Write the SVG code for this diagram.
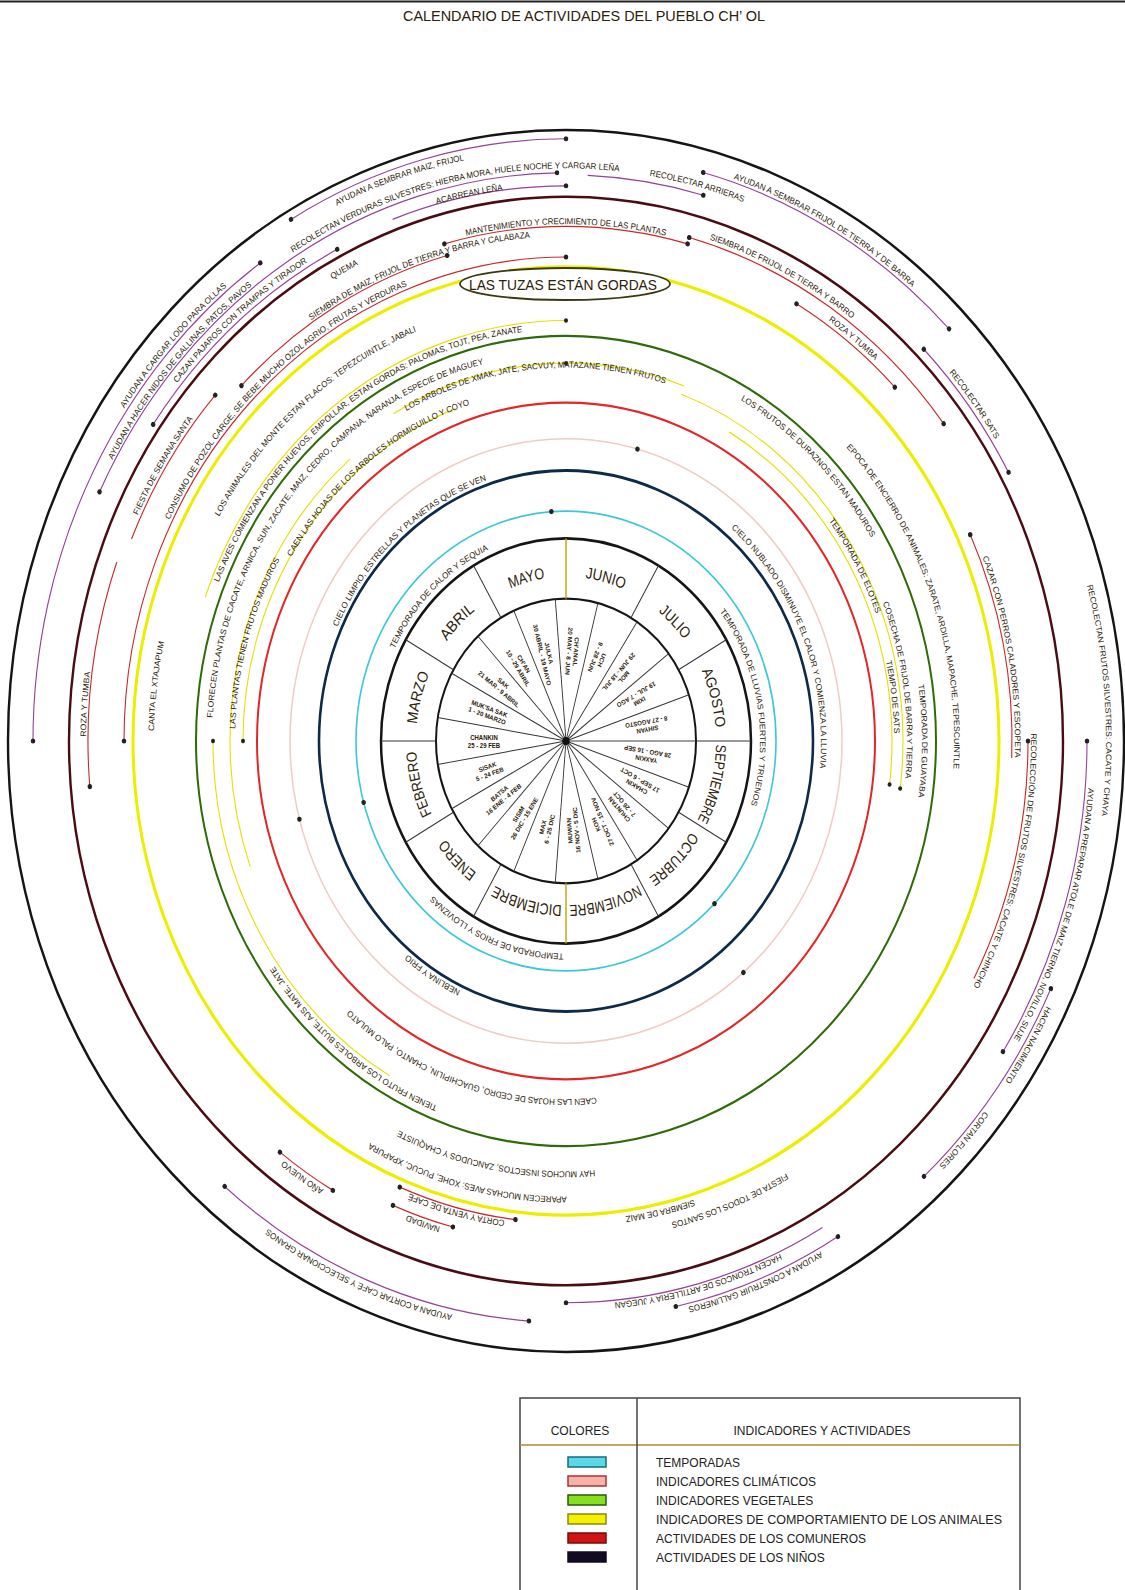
<svg xmlns="http://www.w3.org/2000/svg" width="1125" height="1590" viewBox="0 0 1125 1590">
<style>
text{font-family:"Liberation Sans","DejaVu Sans",sans-serif;fill:#2b2008}
.t{font-size:8px}
.m{font-size:14.5px;fill:#000}
.w{font-size:6px;fill:#a88300;font-weight:bold}
.ring{fill:none}
.arc{fill:none;stroke-width:1.1}
.pu{stroke:#96409a}.re{stroke:#c82828}.ye{stroke:#e6e000}
.dot{fill:#222}
.lg{font-size:12px;fill:#222}
</style>
<defs>
<path id="r150" d="M0,150A150,150 0 1 1 0,-150A150,150 0 1 1 0,150A150,150 0 1 1 0,-150"/>
<path id="r191" d="M0,191A191,191 0 1 1 0,-191A191,191 0 1 1 0,191A191,191 0 1 1 0,-191"/>
<path id="r194" d="M0,194A194,194 0 1 1 0,-194A194,194 0 1 1 0,194A194,194 0 1 1 0,-194"/>
<path id="r251" d="M0,251A251,251 0 1 1 0,-251A251,251 0 1 1 0,251A251,251 0 1 1 0,-251"/>
<path id="r255" d="M0,255A255,255 0 1 1 0,-255A255,255 0 1 1 0,255A255,255 0 1 1 0,-255"/>
<path id="r322" d="M0,322A322,322 0 1 1 0,-322A322,322 0 1 1 0,322A322,322 0 1 1 0,-322"/>
<path id="r327" d="M0,327A327,327 0 1 1 0,-327A327,327 0 1 1 0,327A327,327 0 1 1 0,-327"/>
<path id="r328" d="M0,328A328,328 0 1 1 0,-328A328,328 0 1 1 0,328A328,328 0 1 1 0,-328"/>
<path id="r331" d="M0,331A331,331 0 1 1 0,-331A331,331 0 1 1 0,331A331,331 0 1 1 0,-331"/>
<path id="r341" d="M0,341A341,341 0 1 1 0,-341A341,341 0 1 1 0,341A341,341 0 1 1 0,-341"/>
<path id="r354" d="M0,354A354,354 0 1 1 0,-354A354,354 0 1 1 0,354A354,354 0 1 1 0,-354"/>
<path id="r356" d="M0,356A356,356 0 1 1 0,-356A356,356 0 1 1 0,356A356,356 0 1 1 0,-356"/>
<path id="r357" d="M0,357A357,357 0 1 1 0,-357A357,357 0 1 1 0,357A357,357 0 1 1 0,-357"/>
<path id="r376" d="M0,376A376,376 0 1 1 0,-376A376,376 0 1 1 0,376A376,376 0 1 1 0,-376"/>
<path id="r388" d="M0,388A388,388 0 1 1 0,-388A388,388 0 1 1 0,388A388,388 0 1 1 0,-388"/>
<path id="r393" d="M0,393A393,393 0 1 1 0,-393A393,393 0 1 1 0,393A393,393 0 1 1 0,-393"/>
<path id="r403" d="M0,403A403,403 0 1 1 0,-403A403,403 0 1 1 0,403A403,403 0 1 1 0,-403"/>
<path id="r412" d="M0,412A412,412 0 1 1 0,-412A412,412 0 1 1 0,412A412,412 0 1 1 0,-412"/>
<path id="r416" d="M0,416A416,416 0 1 1 0,-416A416,416 0 1 1 0,416A416,416 0 1 1 0,-416"/>
<path id="r438" d="M0,438A438,438 0 1 1 0,-438A438,438 0 1 1 0,438A438,438 0 1 1 0,-438"/>
<path id="r442" d="M0,442A442,442 0 1 1 0,-442A442,442 0 1 1 0,442A442,442 0 1 1 0,-442"/>
<path id="r445" d="M0,445A445,445 0 1 1 0,-445A445,445 0 1 1 0,445A445,445 0 1 1 0,-445"/>
<path id="r449" d="M0,449A449,449 0 1 1 0,-449A449,449 0 1 1 0,449A449,449 0 1 1 0,-449"/>
<path id="r452" d="M0,452A452,452 0 1 1 0,-452A452,452 0 1 1 0,452A452,452 0 1 1 0,-452"/>
<path id="r461" d="M0,461A461,461 0 1 1 0,-461A461,461 0 1 1 0,461A461,461 0 1 1 0,-461"/>
<path id="r465" d="M0,465A465,465 0 1 1 0,-465A465,465 0 1 1 0,465A465,465 0 1 1 0,-465"/>
<path id="r472" d="M0,472A472,472 0 1 1 0,-472A472,472 0 1 1 0,472A472,472 0 1 1 0,-472"/>
<path id="r475" d="M0,475A475,475 0 1 1 0,-475A475,475 0 1 1 0,475A475,475 0 1 1 0,-475"/>
<path id="r476" d="M0,476A476,476 0 1 1 0,-476A476,476 0 1 1 0,476A476,476 0 1 1 0,-476"/>
<path id="r480" d="M0,480A480,480 0 1 1 0,-480A480,480 0 1 1 0,480A480,480 0 1 1 0,-480"/>
<path id="r482" d="M0,482A482,482 0 1 1 0,-482A482,482 0 1 1 0,482A482,482 0 1 1 0,-482"/>
<path id="r507" d="M0,507A507,507 0 1 1 0,-507A507,507 0 1 1 0,507A507,507 0 1 1 0,-507"/>
<path id="r508" d="M0,508A508,508 0 1 1 0,-508A508,508 0 1 1 0,508A508,508 0 1 1 0,-508"/>
<path id="r510" d="M0,510A510,510 0 1 1 0,-510A510,510 0 1 1 0,510A510,510 0 1 1 0,-510"/>
<path id="r515" d="M0,515A515,515 0 1 1 0,-515A515,515 0 1 1 0,515A515,515 0 1 1 0,-515"/>
<path id="r521" d="M0,521A521,521 0 1 1 0,-521A521,521 0 1 1 0,521A521,521 0 1 1 0,-521"/>
<path id="r523" d="M0,523A523,523 0 1 1 0,-523A523,523 0 1 1 0,523A523,523 0 1 1 0,-523"/>
<path id="r524" d="M0,524A524,524 0 1 1 0,-524A524,524 0 1 1 0,524A524,524 0 1 1 0,-524"/>
<path id="r531" d="M0,531A531,531 0 1 1 0,-531A531,531 0 1 1 0,531A531,531 0 1 1 0,-531"/>
<path id="r536" d="M0,536A536,536 0 1 1 0,-536A536,536 0 1 1 0,536A536,536 0 1 1 0,-536"/>
<path id="r538" d="M0,538A538,538 0 1 1 0,-538A538,538 0 1 1 0,538A538,538 0 1 1 0,-538"/>
<path id="r540" d="M0,540A540,540 0 1 1 0,-540A540,540 0 1 1 0,540A540,540 0 1 1 0,-540"/>
</defs>
<rect width="1125" height="1590" fill="#fff"/>
<line x1="0" y1="1.5" x2="1125" y2="1.5" stroke="#222" stroke-width="2"/>
<text id="title" x="584" y="21" font-size="15" text-anchor="middle" textLength="362" lengthAdjust="spacingAndGlyphs" fill="#1a1a1a">CALENDARIO DE ACTIVIDADES DEL PUEBLO CH’ OL</text>

<g id="diagram" transform="translate(566,741) scale(1,1.095)">
<g id="rings" class="ring">
<circle r="558" stroke="#151515" stroke-width="2.4"/>
<circle r="497" stroke="#4a0c12" stroke-width="2.4"/>
<circle r="433" stroke="#eded00" stroke-width="3"/>
<circle r="370" stroke="#2f6a08" stroke-width="2"/>
<circle r="309" stroke="#e42626" stroke-width="2"/>
<circle r="276" stroke="#f0ccc4" stroke-width="1.5"/>
<circle r="247" stroke="#0d2a48" stroke-width="2.6"/>
<circle r="210" stroke="#3ac8d8" stroke-width="1.6"/>
</g>

<g id="center">
<circle r="185" fill="#fff" stroke="#151515" stroke-width="2.5"/>
<circle r="130" fill="none" stroke="#151515" stroke-width="2"/>
<g stroke="#333" stroke-width="1">
<line x1="130" x2="185" transform="rotate(0)"/><line x1="130" x2="185" transform="rotate(30)"/><line x1="130" x2="185" transform="rotate(60)"/><line x1="130" x2="185" transform="rotate(120)"/><line x1="130" x2="185" transform="rotate(150)"/><line x1="130" x2="185" transform="rotate(180)"/><line x1="130" x2="185" transform="rotate(210)"/><line x1="130" x2="185" transform="rotate(240)"/><line x1="130" x2="185" transform="rotate(300)"/><line x1="130" x2="185" transform="rotate(330)"/>
</g>
<g stroke="#c9a200" stroke-width="1.4"><line y1="-130" y2="-185"/><line y1="130" y2="185"/></g>
<g stroke="#333" stroke-width="0.9">
<line x2="130" transform="rotate(0)"/><line x2="130" transform="rotate(18.947)"/><line x2="130" transform="rotate(37.895)"/><line x2="130" transform="rotate(56.842)"/><line x2="130" transform="rotate(75.789)"/><line x2="130" transform="rotate(94.737)"/><line x2="130" transform="rotate(113.684)"/><line x2="130" transform="rotate(132.632)"/><line x2="130" transform="rotate(151.579)"/><line x2="130" transform="rotate(170.526)"/><line x2="130" transform="rotate(189.474)"/><line x2="130" transform="rotate(208.421)"/><line x2="130" transform="rotate(227.368)"/><line x2="130" transform="rotate(246.316)"/><line x2="130" transform="rotate(265.263)"/><line x2="130" transform="rotate(284.211)"/><line x2="130" transform="rotate(303.158)"/><line x2="130" transform="rotate(322.105)"/><line x2="130" transform="rotate(341.053)"/>
</g>
<circle r="3.6" fill="#111"/>
<g id="months" class="m" text-anchor="middle">
<text><textPath href="#r150" startOffset="30.556%" textLength="36" lengthAdjust="spacingAndGlyphs">MAYO</textPath></text>
<text><textPath href="#r150" startOffset="36.111%" textLength="40" lengthAdjust="spacingAndGlyphs">JUNIO</textPath></text>
<text><textPath href="#r150" startOffset="41.667%" textLength="36" lengthAdjust="spacingAndGlyphs">JULIO</textPath></text>
<text><textPath href="#r150" startOffset="47.222%" textLength="54" lengthAdjust="spacingAndGlyphs">AGOSTO</textPath></text>
<text><textPath href="#r150" startOffset="52.778%" textLength="72" lengthAdjust="spacingAndGlyphs">SEPTIEMBRE</textPath></text>
<text><textPath href="#r150" startOffset="58.333%" textLength="60" lengthAdjust="spacingAndGlyphs">OCTUBRE</textPath></text>
<text><textPath href="#r150" startOffset="63.889%" textLength="72" lengthAdjust="spacingAndGlyphs">NOVIEMBRE</textPath></text>
<text><textPath href="#r150" startOffset="69.444%" textLength="70" lengthAdjust="spacingAndGlyphs">DICIEMBRE</textPath></text>
<text><textPath href="#r150" startOffset="75%" textLength="44" lengthAdjust="spacingAndGlyphs">ENERO</textPath></text>
<text><textPath href="#r150" startOffset="80.556%" textLength="60" lengthAdjust="spacingAndGlyphs">FEBRERO</textPath></text>
<text><textPath href="#r150" startOffset="19.444%" textLength="48" lengthAdjust="spacingAndGlyphs">MARZO</textPath></text>
<text><textPath href="#r150" startOffset="25%" textLength="40" lengthAdjust="spacingAndGlyphs">ABRIL</textPath></text>
</g>
<g id="wedges" class="w" text-anchor="middle">
<g transform="rotate(9.47) translate(82,0) rotate(180)"><text y="-1">YAXKIN</text><text y="6">28 AGO - 16 SEP</text></g>
<g transform="rotate(28.42) translate(82,0) rotate(180)"><text y="-1">CHAKIN</text><text y="6">17 SEP - 6 OCT</text></g>
<g transform="rotate(47.37) translate(82,0) rotate(180)"><text y="-1">CHUNTAN</text><text y="6">7 - 26 OCT</text></g>
<g transform="rotate(66.32) translate(82,0) rotate(180)"><text y="-1">KOH</text><text y="6">27 OCT - 15 NOV</text></g>
<g transform="rotate(85.26) translate(82,0) rotate(180)"><text y="-1">MUWAN</text><text y="6">16 NOV - 5 DIC</text></g>
<g transform="rotate(104.21) translate(82,0) rotate(180)"><text y="-1">MAX</text><text y="6">6 - 25 DIC</text></g>
<g transform="rotate(123.16) translate(82,0) rotate(180)"><text y="-1">SISIM</text><text y="6">26 DIC - 15 ENE</text></g>
<g transform="rotate(142.11) translate(82,0) rotate(180)"><text y="-1">BATSA</text><text y="6">16 ENE - 4 FEB</text></g>
<g transform="rotate(161.05) translate(82,0) rotate(180)"><text y="-1">SISAK</text><text y="6">5 - 24 FEB</text></g>
<g transform="rotate(180) translate(82,0) rotate(180)"><text y="-1">CHANKIN</text><text y="6">25 - 29 FEB</text></g>
<g transform="rotate(198.95) translate(82,0) rotate(180)"><text y="-1">MUK'SA SAK</text><text y="6">1 - 20 MARZO</text></g>
<g transform="rotate(217.89) translate(82,0) rotate(180)"><text y="-1">SAK</text><text y="6">21 MAR - 9 ABRIL</text></g>
<g transform="rotate(236.84) translate(82,0) rotate(180)"><text y="-1">CH'AN</text><text y="6">10 - 29 ABRIL</text></g>
<g transform="rotate(255.79) translate(82,0) rotate(180)"><text y="-1">JULKA</text><text y="6">30 ABRIL - 19 MAYO</text></g>
<g transform="rotate(274.74) translate(82,0) rotate(180)"><text y="-1">CH'ANAL</text><text y="6">20 MAY - 8 JUN</text></g>
<g transform="rotate(293.68) translate(82,0) rotate(180)"><text y="-1">UCH</text><text y="6">9 - 28 JUN</text></g>
<g transform="rotate(312.63) translate(82,0) rotate(180)"><text y="-1">MOL</text><text y="6">29 JUN - 18 JUL</text></g>
<g transform="rotate(331.58) translate(82,0) rotate(180)"><text y="-1">IXIM</text><text y="6">19 JUL - 7 AGO</text></g>
<g transform="rotate(350.53) translate(82,0) rotate(180)"><text y="-1">SIHYAN</text><text y="6">8 - 27 AGOSTO</text></g>
</g>
</g>

<g id="connectors">
<circle class="arc pu" r="550" pathLength="360" stroke-dasharray="30 360" transform="rotate(240)"/>
<circle class="arc pu" r="537" pathLength="360" stroke-dasharray="30.7 360" transform="rotate(284.8)"/>
<circle class="arc pu" r="533" pathLength="360" stroke-dasharray="55 360" transform="rotate(180)"/>
<circle class="arc pu" r="519" pathLength="360" stroke-dasharray="63 360" transform="rotate(206)"/>
<circle class="arc pu" r="504" pathLength="360" stroke-dasharray="28 360" transform="rotate(215)"/>
<circle class="arc pu" r="507" pathLength="360" stroke-dasharray="20 360" transform="rotate(250)"/>
<circle class="arc pu" r="517" pathLength="360" stroke-dasharray="13 360" transform="rotate(272.4)"/>
<circle class="arc pu" r="506" pathLength="360" stroke-dasharray="16 360" transform="rotate(315)"/>
<circle class="arc pu" r="521" pathLength="360" stroke-dasharray="33 360" transform="rotate(0)"/>
<circle class="arc pu" r="535" pathLength="360" stroke-dasharray="23 360" transform="rotate(25)"/>
<circle class="arc pu" r="528" pathLength="360" stroke-dasharray="19 360" transform="rotate(59)"/>
<circle class="arc pu" r="513" pathLength="360" stroke-dasharray="30 360" transform="rotate(60)"/>
<circle class="arc pu" r="531" pathLength="360" stroke-dasharray="36 360" transform="rotate(94)"/>
<circle class="arc re" r="470" pathLength="360" stroke-dasharray="30 360" transform="rotate(255)"/>
<circle class="arc re" r="476" pathLength="360" stroke-dasharray="37.5 360" transform="rotate(285)"/>
<circle class="arc re" r="461" pathLength="360" stroke-dasharray="15.5 360" transform="rotate(300)"/>
<circle class="arc re" r="459" pathLength="360" stroke-dasharray="30 360" transform="rotate(225)"/>
<circle class="arc re" r="442" pathLength="360" stroke-dasharray="90 360" transform="rotate(180)"/>
<circle class="arc re" r="478" pathLength="360" stroke-dasharray="25 360" transform="rotate(175)"/>
<circle class="arc re" r="472" pathLength="360" stroke-dasharray="19 360" transform="rotate(203)"/>
<circle class="arc re" r="446" pathLength="360" stroke-dasharray="27 360" transform="rotate(335)"/>
<circle class="arc re" r="462" pathLength="360" stroke-dasharray="28 360" transform="rotate(0)"/>
<circle class="arc re" r="472" pathLength="360" stroke-dasharray="7.7 360" transform="rotate(119.6)"/>
<circle class="arc re" r="440" pathLength="360" stroke-dasharray="15.6 360" transform="rotate(96.6)"/>
<circle class="arc re" r="458" pathLength="360" stroke-dasharray="7.9 360" transform="rotate(104.3)"/>
<circle class="arc ye" r="323" pathLength="360" stroke-dasharray="70 360" transform="rotate(180)"/>
<circle class="arc ye" r="336" pathLength="360" stroke-dasharray="70 360" transform="rotate(160)"/>
<circle class="arc ye" r="353" pathLength="360" stroke-dasharray="60 360" transform="rotate(120)"/>
<circle class="arc ye" r="345" pathLength="360" stroke-dasharray="50 360" transform="rotate(240)"/>
<circle class="arc ye" r="326" pathLength="360" stroke-dasharray="67 360" transform="rotate(300)"/>
<circle class="arc ye" r="337" pathLength="360" stroke-dasharray="77 360" transform="rotate(290)"/>
<circle class="arc ye" r="384" pathLength="360" stroke-dasharray="70 360" transform="rotate(200)"/>
<g class="dot">
<circle cx="550" r="2.3" transform="rotate(240)"/><circle cx="550" r="2.3" transform="rotate(270)"/>
<circle cx="537" r="2.3" transform="rotate(284.8)"/><circle cx="537" r="2.3" transform="rotate(315.5)"/>
<circle cx="533" r="2.3" transform="rotate(180)"/><circle cx="533" r="2.3" transform="rotate(235)"/>
<circle cx="519" r="2.3" transform="rotate(206)"/><circle cx="519" r="2.3" transform="rotate(269)"/>
<circle cx="504" r="2.3" transform="rotate(215)"/><circle cx="504" r="2.3" transform="rotate(243)"/>
<circle cx="507" r="2.3" transform="rotate(270)"/>
<circle cx="517" r="2.3" transform="rotate(285.4)"/>
<circle cx="506" r="2.3" transform="rotate(315)"/><circle cx="506" r="2.3" transform="rotate(331)"/>
<circle cx="521" r="2.3" transform="rotate(0)"/><circle cx="521" r="2.3" transform="rotate(33)"/>
<circle cx="535" r="2.3" transform="rotate(25)"/><circle cx="535" r="2.3" transform="rotate(48)"/>
<circle cx="528" r="2.3" transform="rotate(59)"/><circle cx="528" r="2.3" transform="rotate(78)"/>
<circle cx="513" r="2.3" transform="rotate(90)"/>
<circle cx="531" r="2.3" transform="rotate(94)"/><circle cx="531" r="2.3" transform="rotate(130)"/>
<circle cx="470" r="2.3" transform="rotate(255)"/><circle cx="470" r="2.3" transform="rotate(285)"/>
<circle cx="476" r="2.3" transform="rotate(285)"/><circle cx="476" r="2.3" transform="rotate(322.5)"/>
<circle cx="461" r="2.3" transform="rotate(300)"/><circle cx="461" r="2.3" transform="rotate(315.5)"/>
<circle cx="459" r="2.3" transform="rotate(225)"/><circle cx="459" r="2.3" transform="rotate(255)"/>
<circle cx="442" r="2.3" transform="rotate(180)"/><circle cx="442" r="2.3" transform="rotate(270)"/>
<circle cx="478" r="2.3" transform="rotate(175)"/><circle cx="472" r="2.3" transform="rotate(222)"/>
<circle cx="446" r="2.3" transform="rotate(335)"/><circle cx="462" r="2.3" transform="rotate(0)"/>
<circle cx="472" r="2.3" transform="rotate(119.6)"/><circle cx="472" r="2.3" transform="rotate(127.3)"/>
<circle cx="440" r="2.3" transform="rotate(96.6)"/><circle cx="440" r="2.3" transform="rotate(112.2)"/>
<circle cx="458" r="2.3" transform="rotate(104.3)"/><circle cx="458" r="2.3" transform="rotate(112.2)"/>
<circle cx="353" r="2" transform="rotate(180)"/><circle cx="323" r="2" transform="rotate(180)"/>
<circle cx="326" r="2" transform="rotate(7)"/><circle cx="337" r="2" transform="rotate(7.4)"/>
<circle cx="384" r="2" transform="rotate(270)"/><circle cx="345" r="2" transform="rotate(270)"/>
<circle cx="210" r="2.3" transform="rotate(266)"/><circle cx="210" r="2.3" transform="rotate(45)"/><circle cx="210" r="2.3" transform="rotate(164.5)"/>
<circle cx="276" r="2.3" transform="rotate(285)"/><circle cx="276" r="2.3" transform="rotate(50)"/><circle cx="276" r="2.3" transform="rotate(165)"/>
</g>
</g>

<g id="labels" class="t" text-anchor="middle">
<text><textPath href="#r191" startOffset="25.19%">TEMPORADA DE CALOR Y SEQUIA</textPath></text>
<text><textPath href="#r194" startOffset="48.15%">TEMPORADA DE LLUVIAS FUERTES Y TRUENOS</textPath></text>
<text><textPath href="#r194" startOffset="70.74%">TEMPORADA DE FRIOS Y LLOVIZNAS</textPath></text>
<text><textPath href="#r251" startOffset="25.56%">CIELO LIMPIO, ESTRELLAS Y PLANETAS QUE SE VEN</textPath></text>
<text><textPath href="#r255" startOffset="45.93%">CIELO NUBLADO DISMINUYE EL CALOR Y COMIENZA LA LLUVIA</textPath></text>
<text><textPath href="#r251" startOffset="72.59%">NEBLINA Y FRIO</textPath></text>
<text><textPath href="#r322" startOffset="26.3%">CAEN LAS HOJAS DE LOS ARBOLES HORMIGUILLO Y COYO</textPath></text>
<text><textPath href="#r327" startOffset="70%">CAEN LAS HOJAS DE CEDRO, GUACHIPILIN, CHANTO, PALO MULATO</textPath></text>
<text><textPath href="#r331" startOffset="19.63%">LAS PLANTAS TIENEN FRUTOS MADUROS</textPath></text>
<text><textPath href="#r341" startOffset="32.31%">LOS ARBOLES DE XMAK, JATE, SACVUY, MATAZANE TIENEN FRUTOS</textPath></text>
<text><textPath href="#r354" startOffset="24.07%">FLORECEN PLANTAS DE CACATE, ARNICA, SUN, ZACATE, MAIZ, CEDRO, CAMPANA, NARANJA, ESPECIE DE MAGUEY</textPath></text>
<text><textPath href="#r357" startOffset="41.48%">LOS FRUTOS DE DURAZNOS ESTAN MADUROS</textPath></text>
<text><textPath href="#r357" startOffset="73.7%">TIENEN FRUTO LOS ARBOLES BUJTE, AJS MATE, JATE</textPath></text>
<text><textPath href="#r331" startOffset="44.63%">TEMPORADA DE ELOTES</textPath></text>
<text><textPath href="#r328" startOffset="48.7%">TIEMPO DE SATS</textPath></text>
<text><textPath href="#r341" startOffset="48.52%">COSECHA DE FRIJOL DE BARRA Y TIERRA</textPath></text>
<text><textPath href="#r356" startOffset="50%">TEMPORADA DE GUAYABA</textPath></text>
<text><textPath href="#r388" startOffset="46.3%">EPOCA DE ENCIERRO DE ANIMALES: ZARATE, ARDILLA, MAPACHE, TEPESCUINTLE</textPath></text>
<text><textPath href="#r393" startOffset="68.61%">HAY MUCHOS INSECTOS, ZANCUDOS Y CHAQUISTE</textPath></text>
<text><textPath href="#r403" startOffset="25.81%">LOS ANIMALES DEL MONTE ESTAN FLACOS: TEPEZCUINTLE, JABALI</textPath></text>
<text><textPath href="#r376" startOffset="26.48%">LAS AVES COMIENZAN A PONER HUEVOS, EMPOLLAR, ESTAN GORDAS: PALOMAS, TOJT, PEA, ZANATE</textPath></text>
<text><textPath href="#r416" startOffset="69.26%">APARECEN MUCHAS AVES: XOHE, PUCUC, XPAPURA</textPath></text>
<text><textPath href="#r412" startOffset="17.96%">CANTA EL XTAJAPUM</textPath></text>
<text><textPath href="#r482" startOffset="28.28%">QUEMA</textPath></text>
<text><textPath href="#r461" startOffset="29.81%">SIEMBRA DE MAIZ, FRIJOL DE TIERRA Y BARRA Y CALABAZA</textPath></text>
<text><textPath href="#r445" startOffset="25.56%">CONSUMO DE POZOL CARGE, SE BEBE MUCHO OZOL AGRIO, FRUTAS Y VERDURAS</textPath></text>
<text><textPath href="#r475" startOffset="22.59%">FIESTA DE SEMANA SANTA</textPath></text>
<text><textPath href="#r472" startOffset="33.33%">MANTENIMIENTO Y CRECIMIENTO DE LAS PLANTAS</textPath></text>
<text><textPath href="#r480" startOffset="38.33%">SIEMBRA DE FRIJOL DE TIERRA Y BARRO</textPath></text>
<text><textPath href="#r465" startOffset="40.37%">ROZA Y TUMBA</textPath></text>
<text><textPath href="#r480" startOffset="17.41%">ROZA Y TUMBA</textPath></text>
<text><textPath href="#r449" startOffset="48.15%">CAZAR CON PERROS CALADORES Y ESCOPETA</textPath></text>
<text><textPath href="#r465" startOffset="52.59%">RECOLECCIÓN DE FRUTOS SILVESTRES: CACATE Y CHINCHO</textPath></text>
<text><textPath href="#r476" startOffset="72.87%">AÑO NUEVO</textPath></text>
<text><textPath href="#r442" startOffset="69.33%">CORTA Y VENTA DE CAFÉ</textPath></text>
<text><textPath href="#r461" startOffset="70%">NAVIDAD</textPath></text>
<text><textPath href="#r452" startOffset="62.72%">FIESTA DE TODOS LOS SANTOS</textPath></text>
<text><textPath href="#r438" startOffset="64.37%">SIEMBRA DE MAIZ</textPath></text>
<text><textPath href="#r540" startOffset="30%">AYUDAN A SEMBRAR MAIZ, FRIJOL</textPath></text>
<text><textPath href="#r540" startOffset="38.7%">AYUDAN A SEMBRAR FRIJOL DE TIERRA Y DE BARRA</textPath></text>
<text><textPath href="#r523" startOffset="30.96%">RECOLECTAN VERDURAS SILVESTRES: HIERBA MORA, HUELE NOCHE Y CARGAR LEÑA</textPath></text>
<text><textPath href="#r523" startOffset="36.02%">RECOLECTAR ARRIERAS</textPath></text>
<text><textPath href="#r507" startOffset="31.3%">ACARREAN LEÑA</textPath></text>
<text><textPath href="#r510" startOffset="43.15%">RECOLECTAR SATS</textPath></text>
<text><textPath href="#r536" startOffset="24.56%">AYUDAN A CARGAR LODO PARA OLLAS</textPath></text>
<text><textPath href="#r521" startOffset="24.3%">AYUDAN A HACER NIDOS DE GALLINAS, PATOS, PAVOS</textPath></text>
<text><textPath href="#r508" startOffset="25.87%">CAZAN PAJAROS CON TRAMPAS Y TIRADOR</textPath></text>
<text><textPath href="#r540" startOffset="49.26%">RECOLECTAN FRUTOS SILVESTRES: CACATE Y CHAYA</textPath></text>
<text><textPath href="#r524" startOffset="53.33%">AYUDAN A PREPARAR ATOLE DE MAIZ TIERNO, NOVILLO, SUJE</textPath></text>
<text><textPath href="#r538" startOffset="55.74%">HACEN NACIMIENTO</textPath></text>
<text><textPath href="#r538" startOffset="57.87%">CORTAN FLORES</textPath></text>
<text><textPath href="#r531" startOffset="62.78%">AYUDAN A CONSTRUIR GALLINEROS</textPath></text>
<text><textPath href="#r515" startOffset="63.89%">HACEN TRONCOS DE ARTILLERIA Y JUEGAN</textPath></text>
<text><textPath href="#r536" startOffset="70.93%">AYUDAN A CORTAR CAFÉ Y SELECCIONAR GRANOS</textPath></text>
</g>
</g>

<g id="tuzas">
<ellipse cx="565" cy="284" rx="105" ry="16" fill="#fff" stroke="#3a3a10" stroke-width="1.8"/>
<text x="563" y="290" font-size="14.5" text-anchor="middle" textLength="188" lengthAdjust="spacingAndGlyphs" fill="#1a1a1a">LAS TUZAS ESTÁN GORDAS</text>
</g>

<g id="legend">
<rect x="520" y="1398" width="500" height="200" fill="#fff" stroke="#444" stroke-width="1.5"/>
<line x1="520" y1="1445" x2="1020" y2="1445" stroke="#b08a30" stroke-width="1.5"/>
<line x1="637" y1="1398" x2="637" y2="1590" stroke="#444" stroke-width="1.5"/>
<text class="lg" x="580" y="1435" text-anchor="middle">COLORES</text>
<text class="lg" x="822" y="1435" text-anchor="middle">INDICADORES Y ACTIVIDADES</text>
<rect x="568" y="1457" width="38" height="10" fill="#5ad8e8" stroke="#1a6a78" stroke-width="1.5"/>
<rect x="568" y="1476" width="38" height="10" fill="#f6b4a8" stroke="#b03030" stroke-width="1.5"/>
<rect x="568" y="1495" width="38" height="10" fill="#86e020" stroke="#2a5a10" stroke-width="1.5"/>
<rect x="568" y="1514" width="38" height="10" fill="#f4f000" stroke="#8a8a10" stroke-width="1.5"/>
<rect x="568" y="1533" width="38" height="10" fill="#d01414" stroke="#7a0a0a" stroke-width="1.5"/>
<rect x="568" y="1552" width="38" height="10" fill="#120a22" stroke="#120a22" stroke-width="1.5"/>
<text class="lg" x="656" y="1467">TEMPORADAS</text>
<text class="lg" x="656" y="1486">INDICADORES CLIMÁTICOS</text>
<text class="lg" x="656" y="1505">INDICADORES VEGETALES</text>
<text class="lg" x="656" y="1524" textLength="346" lengthAdjust="spacingAndGlyphs">INDICADORES DE COMPORTAMIENTO DE LOS ANIMALES</text>
<text class="lg" x="656" y="1543">ACTIVIDADES DE LOS COMUNEROS</text>
<text class="lg" x="656" y="1562">ACTIVIDADES DE LOS NIÑOS</text>
</g>
</svg>
